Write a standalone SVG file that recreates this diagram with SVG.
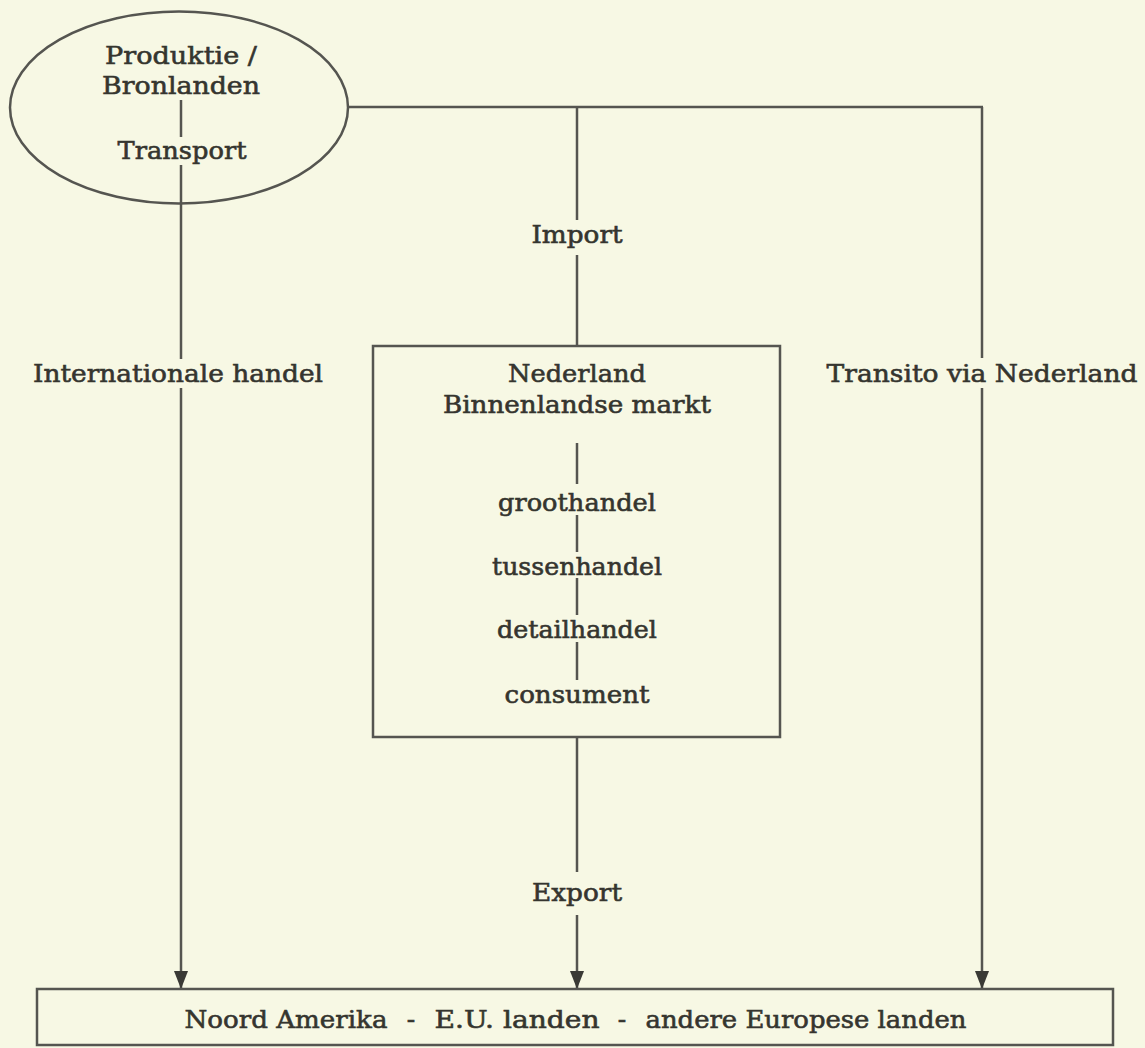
<svg xmlns="http://www.w3.org/2000/svg" width="1145" height="1048" viewBox="0 0 1145 1048">
<style>
.bg{fill:#f7f8e4}
.ln{stroke:#555550;stroke-width:2.5;fill:none}
.shape{stroke:#555550;stroke-width:2.5;fill:none}
text{font-family:"DejaVu Serif","Liberation Serif",serif;font-size:25px;fill:#35352f;stroke:#35352f;stroke-width:0.6;text-anchor:middle}
</style>
<defs>
<marker id="arr" markerUnits="userSpaceOnUse" viewBox="0 0 18 14" markerWidth="18" markerHeight="14" refX="17" refY="7" orient="auto">
<path d="M0,0 L18,7 L0,14 z" fill="#3a3a35"/>
</marker>
</defs>
<rect class="bg" x="0" y="0" width="1145" height="1048"/>

<g id="connectors">
<line class="ln" x1="348" y1="107" x2="983" y2="107"/>
<line class="ln" x1="181" y1="100" x2="181" y2="137"/>
<line class="ln" x1="181" y1="165" x2="181" y2="359"/>
<line class="ln" x1="181" y1="388" x2="181" y2="988" marker-end="url(#arr)"/>
<line class="ln" x1="982" y1="107" x2="982" y2="358"/>
<line class="ln" x1="982" y1="388" x2="982" y2="988" marker-end="url(#arr)"/>
<line class="ln" x1="577" y1="107" x2="577" y2="220"/>
<line class="ln" x1="577" y1="255" x2="577" y2="346"/>
<line class="ln" x1="577" y1="443" x2="577" y2="484"/>
<line class="ln" x1="577" y1="515" x2="577" y2="552"/>
<line class="ln" x1="577" y1="578" x2="577" y2="615"/>
<line class="ln" x1="577" y1="642" x2="577" y2="680"/>
<line class="ln" x1="577" y1="737" x2="577" y2="872"/>
<line class="ln" x1="577" y1="915" x2="577" y2="988" marker-end="url(#arr)"/>
<text x="577" y="243" textLength="91" lengthAdjust="spacingAndGlyphs">Import</text>
<text x="178" y="382" textLength="290" lengthAdjust="spacingAndGlyphs">Internationale handel</text>
<text x="982" y="382" textLength="311" lengthAdjust="spacingAndGlyphs">Transito via Nederland</text>
<text x="577" y="901" textLength="90" lengthAdjust="spacingAndGlyphs">Export</text>
</g>

<g id="bronlanden">
<ellipse class="shape" cx="179" cy="107.5" rx="169" ry="96"/>
<text x="181" y="64" textLength="152" lengthAdjust="spacingAndGlyphs">Produktie /</text>
<text x="181" y="94" textLength="158" lengthAdjust="spacingAndGlyphs">Bronlanden</text>
<text x="182" y="159" textLength="129" lengthAdjust="spacingAndGlyphs">Transport</text>
</g>

<g id="nederland">
<rect class="shape" x="373" y="346" width="407" height="391"/>
<text x="577" y="382" textLength="138" lengthAdjust="spacingAndGlyphs">Nederland</text>
<text x="577" y="413" textLength="268" lengthAdjust="spacingAndGlyphs">Binnenlandse markt</text>
<text x="577" y="511" textLength="158" lengthAdjust="spacingAndGlyphs">groothandel</text>
<text x="577" y="575" textLength="170" lengthAdjust="spacingAndGlyphs">tussenhandel</text>
<text x="577" y="638" textLength="160" lengthAdjust="spacingAndGlyphs">detailhandel</text>
<text x="577" y="703" textLength="145" lengthAdjust="spacingAndGlyphs">consument</text>
</g>

<g id="bestemming">
<rect class="shape" x="37" y="989" width="1076" height="56"/>
<text x="286" y="1028" textLength="203" lengthAdjust="spacingAndGlyphs">Noord Amerika</text>
<text x="411" y="1028">-</text>
<text x="517" y="1028" textLength="165" lengthAdjust="spacingAndGlyphs">E.U. landen</text>
<text x="622" y="1028">-</text>
<text x="806" y="1028" textLength="321" lengthAdjust="spacingAndGlyphs">andere Europese landen</text>
</g>
</svg>
